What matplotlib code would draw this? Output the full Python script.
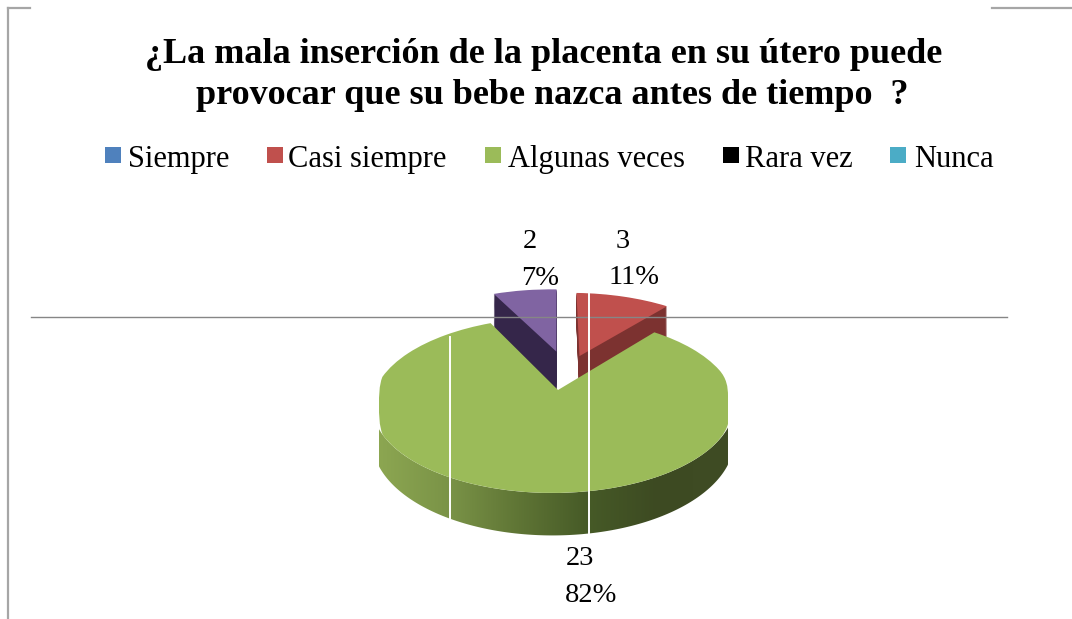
import numpy as np
import matplotlib
matplotlib.use('Agg')
import matplotlib.pyplot as plt
from matplotlib.colors import LinearSegmentedColormap
from matplotlib.patches import Polygon, Rectangle
from matplotlib.transforms import Transform

categories = ['Siempre', 'Casi siempre', 'Algunas veces', 'Rara vez', 'Nunca']
values = [0, 3, 23, 2, 0]
title_lines = ['¿La mala inserción de la placenta en su útero puede',
               'provocar que su bebe nazca antes de tiempo  ?']

slice_colors = ['#4F81BD', '#C0504D', '#9BBB59', '#8064A2', '#4BACC6']
side_colors = ['#4F81BD', '#7C3230', '#9BBB59', '#35264A', '#4BACC6']
legend_colors = ['#4F81BD', '#C0504D', '#9BBB59', '#000000', '#4BACC6']
rim_colors = ['#8CA651', '#7A9347', '#5F7535', '#465A27', '#3D4A22', '#3F4C24']

plt.rcParams['font.family'] = ['Liberation Serif', 'DejaVu Serif']


# unit pie seen in perspective, output is in image pixels
# the sides of the pie are flat in the picture, hence the clip on x
class PieView(Transform):
    input_dims = 2
    output_dims = 2
    is_separable = False

    def __init__(self, depth=0.0):
        super().__init__()
        self.y0 = 390 + 34 * depth
        self.ky = 85 + 7 * depth

    def transform_non_affine(self, xy):
        xy = np.asarray(xy, dtype=float)
        w = 1 + 0.174 * xy[:, 1] + 0.0258 * xy[:, 0]
        px = np.clip(558 + 178 * xy[:, 0] / w, 379, 728)
        return np.column_stack([px, self.y0 - self.ky * xy[:, 1] / w])


fig = plt.figure(figsize=(10.72, 6.19), dpi=100)
ax = fig.add_axes([0, 0, 1, 1])


def draw_pie(view, colors, zorder):
    wedges, _ = ax.pie(values, colors=colors, startangle=90, counterclock=False,
                       wedgeprops={'linewidth': 0})
    wedges[1].set_center((0.13, 0.43))
    wedges[3].set_center((-0.01, 0.49))
    for w in wedges:
        w.set_transform(view + ax.transData)
        w.set_zorder(zorder)
    return wedges


# pulled out slices: dark side from stacked copies, then the top
for d in np.linspace(1.3, 0.03, 36):
    wedges = draw_pie(PieView(d), side_colors, 2)
    wedges[2].set_visible(False)
wedges = draw_pie(PieView(), slice_colors, 3)
wedges[2].set_visible(False)

# big slice sits over them
big = draw_pie(PieView(), slice_colors, 5)
for i, w in enumerate(big):
    if i != 2:
        w.set_visible(False)

# rim of big slice with the left to right shading, front part only
t = np.radians(np.linspace(big[2].theta1, big[2].theta2, 400))
t = t[np.sin(t) < -0.15]
arc = np.column_stack([np.cos(t), np.sin(t)])
rim = np.vstack([PieView().transform(arc), PieView(1.0).transform(arc)[::-1]])
rim_patch = Polygon(rim, closed=True, transform=ax.transData, facecolor='none', linewidth=0)
ax.add_patch(rim_patch)
cmap = LinearSegmentedColormap.from_list('rim', rim_colors)
im = ax.imshow(np.linspace(0, 1, 256).reshape(1, -1), cmap=cmap, aspect='auto',
               extent=(379, 728, 545, 370), zorder=4)
im.set_clip_path(rim_patch)

ax.set_aspect('auto')
ax.set_xlim(0, 1072)
ax.set_ylim(619, 0)
ax.axis('off')

# stray lines of the pasted picture
ax.plot([8, 8], [619, 8], color='#A6A6A6', lw=1.6, zorder=6)
ax.plot([8, 30], [8, 8], color='#A6A6A6', lw=1.6, zorder=6)
ax.plot([992, 1072], [8, 8], color='#A6A6A6', lw=1.6, zorder=6)
ax.plot([31, 1007], [317, 317], color='#868686', lw=1, zorder=6)
ax.plot([450, 450], [337, 518], color='white', lw=1.4, zorder=6)
ax.plot([589, 589], [291, 533], color='white', lw=1.4, zorder=6)

ax.text(543.5, 63, title_lines[0], fontsize=26, fontweight='bold', ha='center', va='baseline')
ax.text(552, 104, title_lines[1], fontsize=26, fontweight='bold', ha='center', va='baseline')

legend_box_x = [105, 267, 485, 723, 890]
legend_text_x = [128, 288, 508, 745, 914]
for name, c, bx, tx in zip(categories, legend_colors, legend_box_x, legend_text_x):
    ax.add_patch(Rectangle((bx, 147), 16, 16, facecolor=c, edgecolor='none', zorder=6))
    ax.text(tx, 167, name, fontsize=22, ha='left', va='baseline')

# value and percent labels
total = sum(values)
label_pos = {3: (530, 248, 540, 285), 1: (623, 248, 634, 284), 2: (580, 565, 591, 602)}
for i, (x1, y1, x2, y2) in label_pos.items():
    ax.text(x1, y1, str(values[i]), fontsize=20.5, ha='center', va='baseline', zorder=7)
    ax.text(x2, y2, f'{values[i] / total:.0%}', fontsize=20.5, ha='center', va='baseline', zorder=7)

fig.savefig('out.png', dpi=100)
